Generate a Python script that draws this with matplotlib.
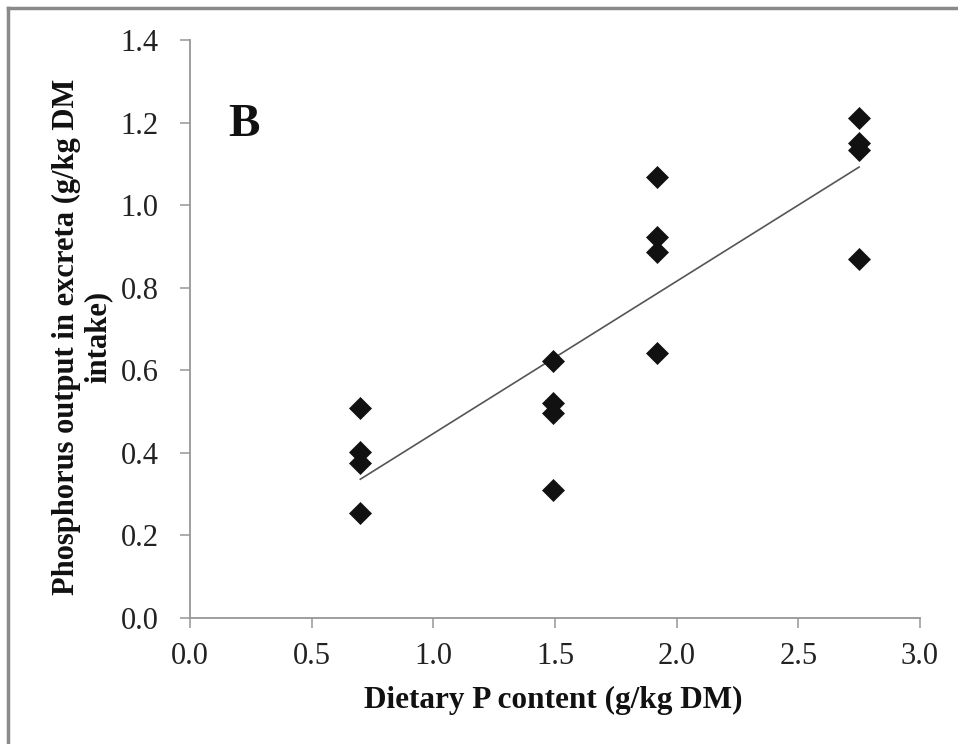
import matplotlib.pyplot as plt
from matplotlib.lines import Line2D
import numpy as np

# dietary P content (g/kg DM), four birds per diet
dietary_p = [0.70, 0.70, 0.70, 0.70,
             1.49, 1.49, 1.49, 1.49,
             1.92, 1.92, 1.92, 1.92,
             2.75, 2.75, 2.75, 2.75]
# P output in excreta (g/kg DM intake)
p_output = [0.507, 0.402, 0.374, 0.253,
            0.622, 0.521, 0.495, 0.309,
            1.067, 0.922, 0.886, 0.641,
            1.210, 1.150, 1.134, 0.869]

x_ticks = [0.0, 0.5, 1.0, 1.5, 2.0, 2.5, 3.0]
y_ticks = [0.0, 0.2, 0.4, 0.6, 0.8, 1.0, 1.2, 1.4]

plt.rcParams['font.family'] = ['Liberation Serif', 'DejaVu Serif']

fig = plt.figure(figsize=(9.58, 7.44), dpi=100)
ax = fig.add_axes([0.1983, 0.1698, 0.7620, 0.7764])

ax.plot(dietary_p, p_output, linestyle='none', marker='D', markersize=11.5,
        color='#111111', markeredgewidth=0.5, zorder=3)

# linear trend line over the range of diets
slope, intercept = np.polyfit(dietary_p, p_output, 1)
xs = np.array([min(dietary_p), max(dietary_p)])
ax.plot(xs, slope * xs + intercept, color='#555555', linewidth=1.2, zorder=2)

ax.set_xlim(0, 3.0)
ax.set_ylim(0, 1.4)
ax.set_xticks(x_ticks)
ax.set_yticks(y_ticks)
ax.set_xticklabels(['%.1f' % v for v in x_ticks])
ax.set_yticklabels(['%.1f' % v for v in y_ticks])

for side in ['top', 'right']:
    ax.spines[side].set_visible(False)
for side in ['left', 'bottom']:
    ax.spines[side].set_color('#969696')
    ax.spines[side].set_linewidth(1.3)
ax.tick_params(axis='both', direction='out', length=7.5, width=1.1,
               color='#969696', labelsize=22, labelcolor='#222222')
ax.tick_params(axis='y', pad=15)
ax.tick_params(axis='x', pad=10)

ax.text(0.074, 0.853, 'B', transform=ax.transAxes, fontsize=34,
        fontweight='bold', ha='center', va='center', color='#111111')

fig.text(553 / 958, 1 - 700 / 744, 'Dietary P content (g/kg DM)',
         fontsize=22.5, fontweight='bold', ha='center', va='center', color='#111111')
fig.text(82 / 958, 1 - 337 / 744, 'Phosphorus output in excreta (g/kg DM\nintake)',
         fontsize=22, fontweight='bold', rotation=90, ha='center', va='center',
         multialignment='center', linespacing=1.1, color='#111111')

# gray frame along the top and left edges
fig.add_artist(Line2D([8 / 958, 8 / 958], [0, 1 - 8 / 744], transform=fig.transFigure,
                      color='#8a8a8a', linewidth=2.5))
fig.add_artist(Line2D([8 / 958, 1], [1 - 8 / 744, 1 - 8 / 744], transform=fig.transFigure,
                      color='#8a8a8a', linewidth=2.5))

fig.savefig('out.png', dpi=100)
